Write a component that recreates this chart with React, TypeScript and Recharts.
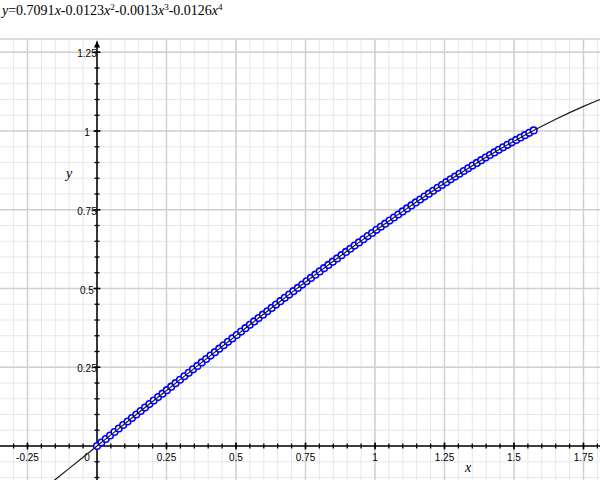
import React from 'react';
import { ComposedChart, XAxis, YAxis, Scatter, ReferenceLine, ReferenceDot } from 'recharts';

const SCATTER_X = [
  0, 0.0157, 0.0314, 0.0471, 0.0628, 0.0785, 0.0942, 0.11, 0.1257, 0.1414,
  0.1571, 0.1728, 0.1885, 0.2042, 0.2199, 0.2356, 0.2513, 0.267, 0.2827, 0.2985,
  0.3142, 0.3299, 0.3456, 0.3613, 0.377, 0.3927, 0.4084, 0.4241, 0.4398, 0.4555,
  0.4712, 0.4869, 0.5027, 0.5184, 0.5341, 0.5498, 0.5655, 0.5812, 0.5969, 0.6126,
  0.6283, 0.644, 0.6597, 0.6754, 0.6912, 0.7069, 0.7226, 0.7383, 0.754, 0.7697,
  0.7854, 0.8011, 0.8168, 0.8325, 0.8482, 0.8639, 0.8796, 0.8954, 0.9111, 0.9268,
  0.9425, 0.9582, 0.9739, 0.9896, 1.0053, 1.021, 1.0367, 1.0524, 1.0681, 1.0838,
  1.0996, 1.1153, 1.131, 1.1467, 1.1624, 1.1781, 1.1938, 1.2095, 1.2252, 1.2409,
  1.2566, 1.2723, 1.2881, 1.3038, 1.3195, 1.3352, 1.3509, 1.3666, 1.3823, 1.398,
  1.4137, 1.4294, 1.4451, 1.4608, 1.4765, 1.4923, 1.508, 1.5237, 1.5394, 1.5551,
  1.5708,
];
const SCATTER_Y = [
  0, 0.0111, 0.0223, 0.0334, 0.0445, 0.0556, 0.0667, 0.0778, 0.0889, 0.1,
  0.1111, 0.1221, 0.1332, 0.1443, 0.1553, 0.1663, 0.1773, 0.1884, 0.1994, 0.2104,
  0.2214, 0.2324, 0.2434, 0.2543, 0.2653, 0.2762, 0.2871, 0.298, 0.3089, 0.3198,
  0.3306, 0.3415, 0.3524, 0.3632, 0.374, 0.3848, 0.3955, 0.4063, 0.417, 0.4277,
  0.4384, 0.449, 0.4597, 0.4703, 0.4809, 0.4915, 0.502, 0.5126, 0.523, 0.5335,
  0.5439, 0.5543, 0.5647, 0.575, 0.5853, 0.5956, 0.6058, 0.616, 0.6262, 0.6363,
  0.6464, 0.6564, 0.6664, 0.6763, 0.6862, 0.6961, 0.7059, 0.7157, 0.7254, 0.735,
  0.7447, 0.7543, 0.7638, 0.7732, 0.7826, 0.7919, 0.8012, 0.8104, 0.8195, 0.8286,
  0.8376, 0.8466, 0.8555, 0.8643, 0.8731, 0.8817, 0.8903, 0.8988, 0.9073, 0.9156,
  0.9239, 0.9321, 0.9402, 0.9482, 0.9561, 0.964, 0.9717, 0.9794, 0.9869, 0.9944,
  1.0018,
];

const CURVE_X = [
  -0.35, -0.3, -0.25, -0.2, -0.15, -0.1, -0.05, 0, 0.05, 0.1, 0.15, 0.2, 0.25, 0.3,
  0.35, 0.4, 0.45, 0.5, 0.55, 0.6, 0.65, 0.7, 0.75, 0.8, 0.85, 0.9, 0.95, 1.0,
  1.05, 1.1, 1.15, 1.2, 1.25, 1.3, 1.35, 1.4, 1.45, 1.5, 1.55, 1.6, 1.65, 1.7,
  1.75, 1.8, 1.85,
];
const CURVE_Y = [
  -0.2498, -0.2139, -0.1781, -0.1423, -0.1066, -0.071, -0.0355, 0, 0.0354, 0.0708,
  0.1061, 0.1413, 0.1764, 0.2115, 0.2464, 0.2813, 0.316, 0.3505, 0.3849, 0.4191,
  0.4531, 0.4869, 0.5204, 0.5536, 0.5865, 0.619, 0.6512, 0.6829, 0.7142, 0.7449,
  0.7752, 0.8048, 0.8339, 0.8622, 0.8898, 0.9167, 0.9427, 0.9678, 0.992, 1.0152,
  1.0373, 1.0583, 1.0781, 1.0967, 1.1139,
];

const X_GRID = [
  -0.3, -0.25, -0.2, -0.15, -0.1, -0.05, 0, 0.05, 0.1, 0.15, 0.2, 0.25, 0.3, 0.35,
  0.4, 0.45, 0.5, 0.55, 0.6, 0.65, 0.7, 0.75, 0.8, 0.85, 0.9, 0.95, 1.0, 1.05, 1.1,
  1.15, 1.2, 1.25, 1.3, 1.35, 1.4, 1.45, 1.5, 1.55, 1.6, 1.65, 1.7, 1.75, 1.8,
];
const Y_GRID = [
  -0.1, -0.05, 0, 0.05, 0.1, 0.15, 0.2, 0.25, 0.3, 0.35, 0.4, 0.45, 0.5, 0.55, 0.6,
  0.65, 0.7, 0.75, 0.8, 0.85, 0.9, 0.95, 1.0, 1.05, 1.1, 1.15, 1.2, 1.25,
];
const X_MAJOR = [-0.25, 0, 0.25, 0.5, 0.75, 1, 1.25, 1.5, 1.75];
const X_LABELS = ['-0.25', '0', '0.25', '0.5', '0.75', '1', '1.25', '1.5', '1.75'];
const Y_MAJOR = [0.25, 0.5, 0.75, 1, 1.25];
const Y_LABELS = ['0.25', '0.5', '0.75', '1', '1.25'];

const X_DOMAIN = [-0.3489, 1.8094];
const Y_DOMAIN = [-0.1079, 1.2921];
const Y_ARROW = 1.284;

const scatterData = SCATTER_X.map((x, i) => ({ x, y: SCATTER_Y[i] }));
const curveData = CURVE_X.map((x, i) => ({ x, y: CURVE_Y[i] }));

const MINOR = '#e7e7e7';
const MAJOR = '#d0d0d0';
const LABEL_FONT = '"Liberation Sans", Arial, Helvetica, sans-serif';
const SERIF = '"Liberation Serif", "Times New Roman", Times, serif';

const sup: React.CSSProperties = { fontSize: 9, position: 'relative', top: -5 };

export default function App() {
  return (
    <div style={{ position: 'absolute', left: 0, top: 0, width: 600, height: 480, background: '#fff' }}>
      <div
        style={{
          position: 'absolute',
          left: 2,
          top: 3,
          fontFamily: SERIF,
          fontSize: 14,
          lineHeight: '16px',
          whiteSpace: 'nowrap',
          color: '#000',
        }}
      >
        <i>y</i>=0.7091<i>x</i>-0.0123<i>x</i><span style={sup}>2</span>-0.0013<i>x</i>
        <span style={sup}>3</span>-0.0126<i>x</i><span style={sup}>4</span>
      </div>
      <ComposedChart
        width={600}
        height={480}
        margin={{ top: 39, right: 0, bottom: 0, left: 0 }}
        style={{ position: 'absolute', left: 0, top: 0 }}
      >
        <XAxis type="number" dataKey="x" domain={X_DOMAIN} allowDataOverflow hide />
        <YAxis type="number" dataKey="y" domain={Y_DOMAIN} allowDataOverflow hide />
        {X_GRID.map((v) => (
          <ReferenceLine key={'xg' + v} x={v} stroke={MINOR} strokeWidth={1} />
        ))}
        {Y_GRID.map((v) => (
          <ReferenceLine key={'yg' + v} y={v} stroke={MINOR} strokeWidth={1} />
        ))}
        {X_MAJOR.map((v) => (
          <ReferenceLine key={'xm' + v} x={v} stroke={MAJOR} strokeWidth={1.5} />
        ))}
        {Y_MAJOR.map((v) => (
          <ReferenceLine key={'ym' + v} y={v} stroke={MAJOR} strokeWidth={1.5} />
        ))}
        <ReferenceLine y={Y_DOMAIN[1]} stroke={MAJOR} strokeWidth={1.5} />
        <ReferenceLine y={0} stroke="#000" strokeWidth={1.5} />
        <ReferenceLine
          segment={[
            { x: 0, y: Y_DOMAIN[0] },
            { x: 0, y: Y_ARROW },
          ]}
          stroke="#000"
          strokeWidth={1.5}
        />
        <ReferenceDot
          x={0}
          y={Y_ARROW}
          shape={(p: any) => (
            <path d={`M${p.cx},${p.cy} L${p.cx - 3.2},${p.cy + 6} L${p.cx + 3.2},${p.cy + 6} Z`} fill="#000" />
          )}
        />
        {X_GRID.map((v) => (
          <ReferenceDot
            key={'xt' + v}
            x={v}
            y={0}
            shape={(p: any) => (
              <line x1={p.cx} x2={p.cx} y1={p.cy - 2.5} y2={p.cy + 2.5} stroke="#000" strokeWidth={1.3} />
            )}
          />
        ))}
        {Y_GRID.map((v) => (
          <ReferenceDot
            key={'yt' + v}
            x={0}
            y={v}
            shape={(p: any) => (
              <line x1={p.cx - 2.5} x2={p.cx + 2.5} y1={p.cy} y2={p.cy} stroke="#000" strokeWidth={1.3} />
            )}
          />
        ))}
        {X_MAJOR.map((v, i) => (
          <ReferenceDot
            key={'xl' + v}
            x={v}
            y={0}
            shape={(p: any) => (
              <g>
                <line x1={p.cx} x2={p.cx} y1={p.cy - 3.5} y2={p.cy + 3.5} stroke="#000" strokeWidth={1.5} />
                <text
                  x={v === 0 ? p.cx - 10 : p.cx}
                  y={p.cy + 14.5}
                  textAnchor="middle"
                  fontFamily={LABEL_FONT}
                  fontSize={10}
                  fill="#000"
                >
                  {X_LABELS[i]}
                </text>
              </g>
            )}
          />
        ))}
        {Y_MAJOR.map((v, i) => (
          <ReferenceDot
            key={'yl' + v}
            x={0}
            y={v}
            shape={(p: any) => (
              <g>
                <line x1={p.cx - 3.5} x2={p.cx + 3.5} y1={p.cy} y2={p.cy} stroke="#000" strokeWidth={1.5} />
                <text
                  x={p.cx - 10}
                  y={p.cy + 5}
                  textAnchor="middle"
                  fontFamily={LABEL_FONT}
                  fontSize={10}
                  fill="#000"
                >
                  {Y_LABELS[i]}
                </text>
              </g>
            )}
          />
        ))}
        <Scatter
          data={scatterData}
          dataKey="y"
          isAnimationActive={false}
          shape={(p: any) => (
            <circle cx={p.cx} cy={p.cy} r={3.3} fill="#fff" stroke="#0000ff" strokeWidth={1.6} />
          )}
        />
        <Scatter
          data={curveData}
          dataKey="y"
          isAnimationActive={false}
          line={{ stroke: '#1a1a1a', strokeWidth: 1.2 }}
          lineType="joint"
          shape={() => <g />}
        />
      </ComposedChart>
      <div
        style={{
          position: 'absolute',
          left: 66,
          top: 166,
          fontFamily: SERIF,
          fontStyle: 'italic',
          fontSize: 14,
          lineHeight: '16px',
        }}
      >
        y
      </div>
      <div
        style={{
          position: 'absolute',
          left: 465,
          top: 460,
          fontFamily: SERIF,
          fontStyle: 'italic',
          fontSize: 14,
          lineHeight: '16px',
        }}
      >
        x
      </div>
    </div>
  );
}
